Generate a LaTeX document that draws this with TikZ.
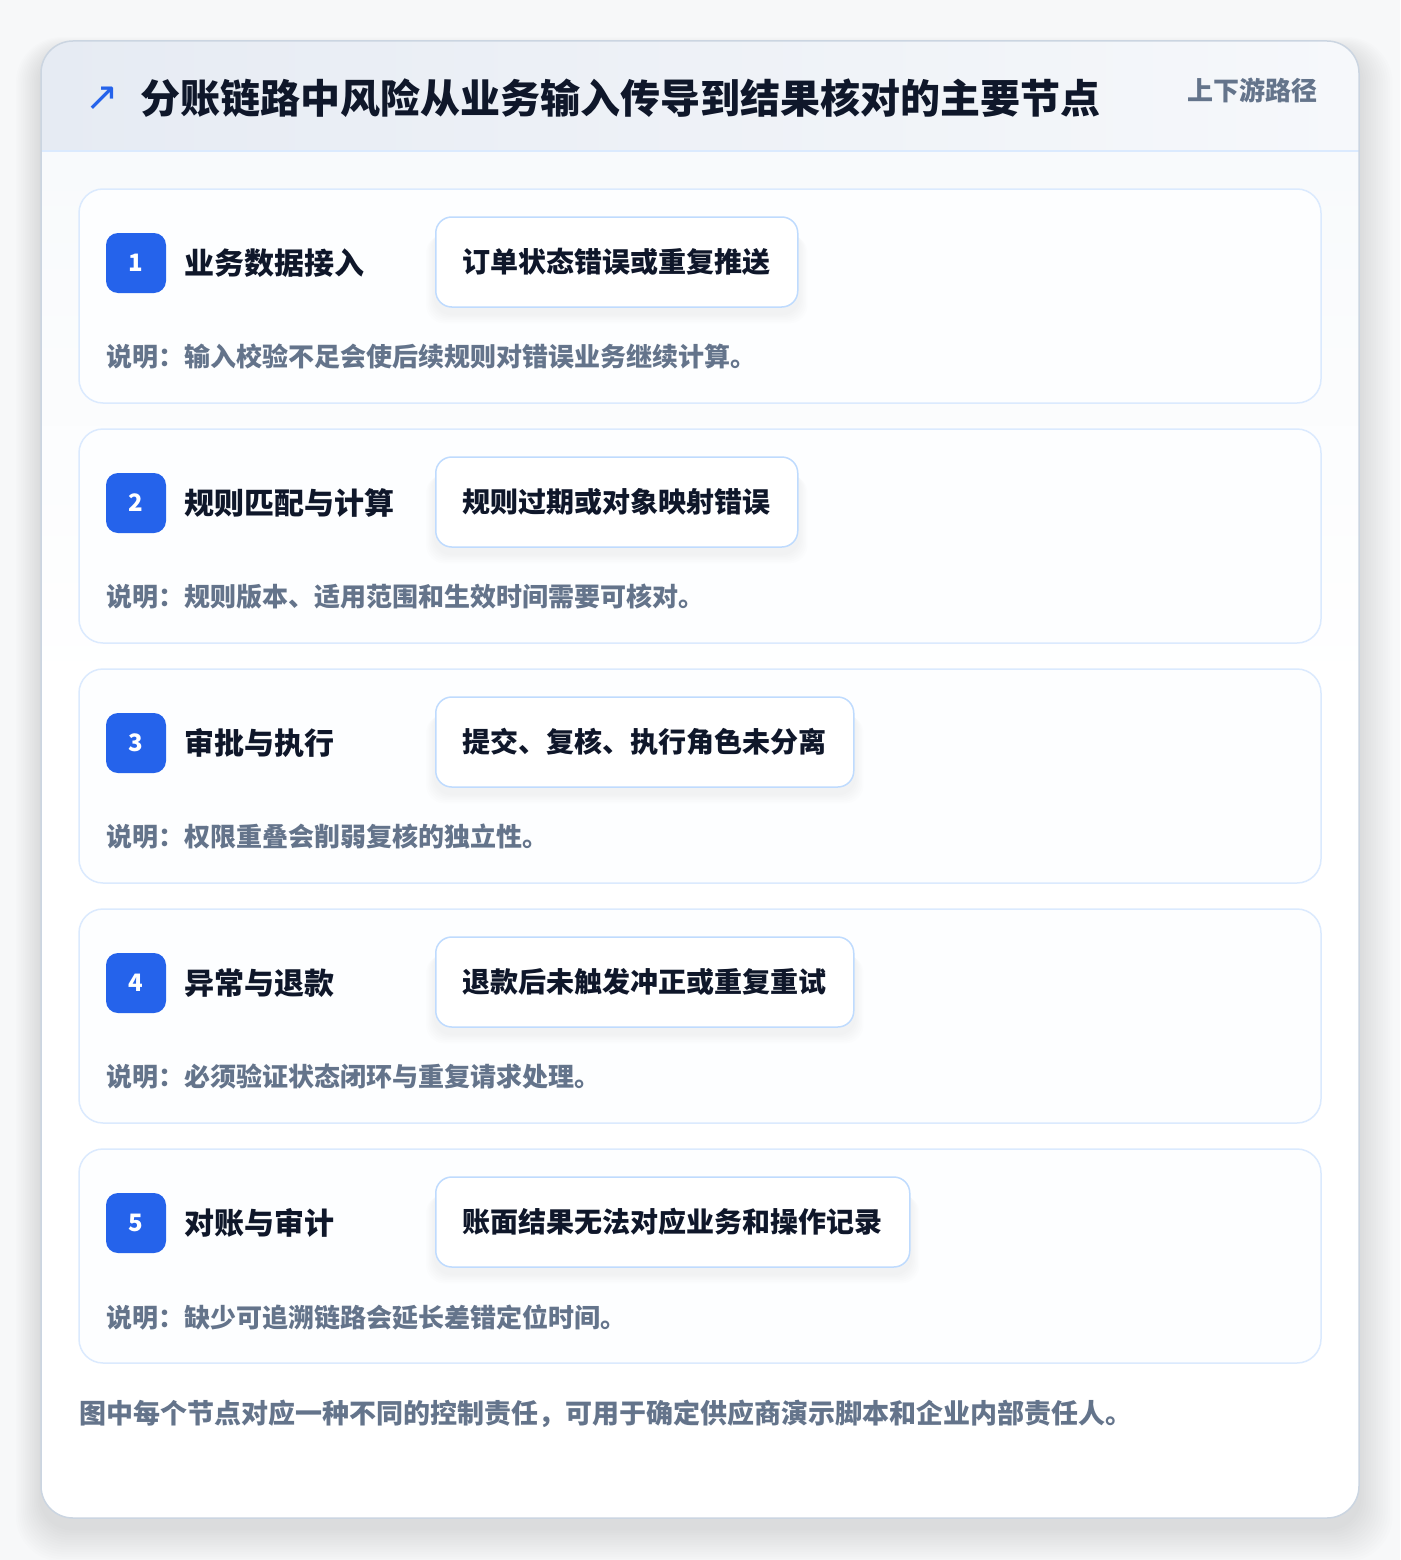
\documentclass[tikz,border=0pt]{standalone}
\usepackage{fontspec}
\newfontfamily\cjk{Noto Sans CJK SC}
\newfontfamily\symfont{DejaVu Sans}
\usetikzlibrary{calc}
\definecolor{pagebg}{HTML}{F7F8F9}
\definecolor{outerline}{HTML}{CBD5E1}
\definecolor{headA}{HTML}{E6EBF3}
\definecolor{headB}{HTML}{F6F8FB}
\definecolor{brandblue}{HTML}{2563EB}
\definecolor{ink}{HTML}{0F172A}
\definecolor{muted}{HTML}{64748B}
\definecolor{softline}{HTML}{DBEAFE}
\definecolor{riskline}{HTML}{BFDBFE}
\definecolor{bodytop}{HTML}{F8FAFC}
\definecolor{cardfill}{HTML}{FDFEFF}
\tikzset{
  cardbox/.style={draw=softline, line width=1.5pt, fill=cardfill, rounded corners=24pt,
    minimum width=1242pt, minimum height=214pt, inner sep=0pt},
  badge/.style={fill=brandblue, rounded corners=12pt, minimum width=60pt, minimum height=60pt,
    inner sep=0pt, text=white, font=\cjk\bfseries\fontsize{24}{28}\selectfont},
  steptitle/.style={anchor=west, inner sep=0pt, text=ink, font=\cjk\bfseries\fontsize{30}{36}\selectfont},
  riskbox/.style={anchor=west, draw=riskline, line width=1.5pt, fill=white, rounded corners=16pt,
    minimum height=90pt, inner xsep=27pt, inner ysep=0pt, text=ink,
    font=\cjk\bfseries\fontsize{28}{34}\selectfont},
  desctext/.style={anchor=west, inner sep=0pt, text=muted, font=\cjk\bfseries\fontsize{26}{30}\selectfont},
}
\begin{document}
\begin{tikzpicture}[x=1pt,y=-1pt]
\useasboundingbox (0,0) rectangle (1400,1560);
\fill[pagebg] (0,0) rectangle (1400,1560);
% outer shadow
\foreach \k in {1,...,14}{
  \fill[black, opacity=0.007, rounded corners={32pt+\k pt}] ($(41,41)+(-\k*1.8,-\k*1.0+10)$) rectangle ($(1359,1518)+(\k*2.4,\k*2.4+10)$);
}
% outer card
\begin{scope}
  \clip[rounded corners=32pt] (41,41) rectangle (1359,1518);
  \shade[top color=bodytop, bottom color=white] (41,151) rectangle (1359,700);
  \fill[white] (41,700) rectangle (1359,1518);
  \shade[left color=headA, right color=headB] (41,41) rectangle (1359,151);
  \draw[softline, line width=1.5pt] (41,151) -- (1359,151);
\end{scope}
\draw[outerline, line width=1.5pt, rounded corners=32pt] (41,41) rectangle (1359,1518);
% header
\node[inner sep=0pt, text=brandblue, font=\symfont\fontsize{40}{44}\selectfont] (arrow) at (102,99) {↗};
\node[anchor=west, inner sep=0pt, text=ink, font=\cjk\bfseries\fontsize{40}{46}\selectfont] (title) at (140,98) {分账链路中风险从业务输入传导到结果核对的主要节点};
\node[anchor=east, inner sep=0pt, text=muted, font=\cjk\bfseries\fontsize{26}{30}\selectfont] (tag) at (1318,90) {上下游路径};
% cards
\foreach \i/\ttl/\risk/\desc in {
  1/业务数据接入/订单状态错误或重复推送/说明：输入校验不足会使后续规则对错误业务继续计算。,
  2/规则匹配与计算/规则过期或对象映射错误/说明：规则版本、适用范围和生效时间需要可核对。,
  3/审批与执行/提交、复核、执行角色未分离/说明：权限重叠会削弱复核的独立性。,
  4/异常与退款/退款后未触发冲正或重复重试/说明：必须验证状态闭环与重复请求处理。,
  5/对账与审计/账面结果无法对应业务和操作记录/说明：缺少可追溯链路会延长差错定位时间。}{
  \pgfmathsetmacro{\top}{189+240*(\i-1)}
  \node[cardbox] (c\i) at (700,\top+107) {};
  \node[badge] (b\i) at (136,\top+74) {\i};
  \node[steptitle] (t\i) at (184,\top+74) {\ttl};
  \node[riskbox, opacity=0] (rs\i) at (435,\top+73) {\risk};
  \foreach \k in {1,...,6}{
    \fill[black, opacity=0.007, rounded corners=18pt] ($(rs\i.south west)+(-\k*1.5,-80+\k*1.2)$) rectangle ($(rs\i.south east)+(\k*1.5,6+\k*1.6)$);
  }
  \node[riskbox] (r\i) at (435,\top+73) {\risk};
  \node[desctext] (d\i) at (106,\top+168) {\desc};
}
% footer
\node[anchor=west, inner sep=0pt, text=muted, font=\cjk\bfseries\fontsize{27}{32}\selectfont] (foot) at (79,1414) {图中每个节点对应一种不同的控制责任，可用于确定供应商演示脚本和企业内部责任人。};
\end{tikzpicture}
\end{document}
